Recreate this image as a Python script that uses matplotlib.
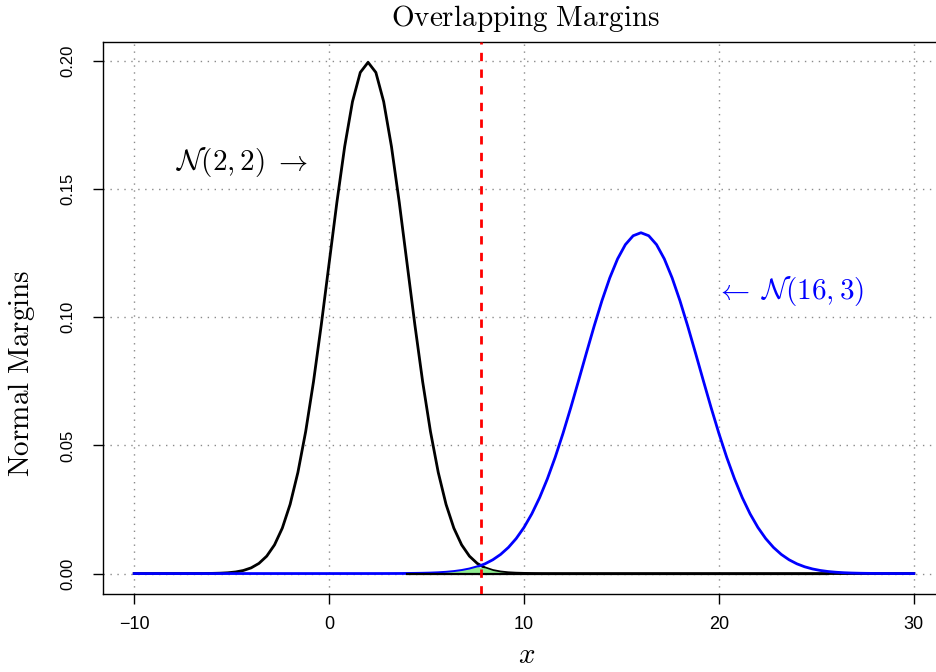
import numpy as np
import matplotlib
matplotlib.use("Agg")
import matplotlib.pyplot as plt

plt.rcParams['mathtext.fontset'] = 'cm'

# distribution parameters (from the labels)
means = [2, 16]
sds = [2, 3]
labels = [r'$\mathcal{N}(2,2)\;\rightarrow$', r'$\leftarrow\;\mathcal{N}(16,3)$']
colors = ['black', 'blue']
x_range = [-10, 30]
xticks = [-10, 0, 10, 20, 30]
yticks = [0.00, 0.05, 0.10, 0.15, 0.20]
cut_x = 7.773
fill_range = [3.73, 25.7]

xs = np.linspace(x_range[0], x_range[1], 101)


def dens(x, m, s):
    return np.exp(-(x - m) ** 2 / (2 * s ** 2)) / (s * np.sqrt(2 * np.pi))


fig = plt.figure(figsize=(9.36, 6.72), dpi=100)
W, H = 936, 672
ax = fig.add_axes([103 / W, (H - 594) / H, (945 - 103) / W, (594 - 42) / H])
ax.set_xlim(-11.6, 31.6)
ax.set_ylim(-0.00798, 0.2074)

ax.set_xticks(xticks)
ax.set_yticks(yticks)
ax.set_xticklabels([f"{v:g}".replace('-', '\u2212') for v in xticks],
                   fontfamily='Liberation Sans', fontsize=13)
ax.set_yticklabels([f"{v:.2f}" for v in yticks], fontfamily='Liberation Sans',
                   fontsize=12, rotation=90, va='center')
ax.tick_params(direction='out', length=7, width=1)
ax.tick_params(axis='x', pad=9)
ax.tick_params(axis='y', pad=13)
ax.grid(True, color='#8a8a8a', linestyle=(0, (1, 4)), linewidth=1)
ax.set_axisbelow(True)
for sp in ax.spines.values():
    sp.set_linewidth(1)

ys = [dens(xs, m, s) for m, s in zip(means, sds)]
ax.plot(xs, ys[0], color=colors[0], lw=2, zorder=3)
ax.plot(xs, ys[1], color=colors[1], lw=2, zorder=4)

mask = (xs >= fill_range[0]) & (xs <= fill_range[1])
ymin = np.minimum(ys[0], ys[1])
ax.fill_between(xs[mask], 0, ymin[mask], color='#90EE90', zorder=5, lw=0)
ax.plot([xs[mask][0], xs[mask][-1]], [0, 0], color='black', lw=1.6, zorder=6)

ax.axvline(cut_x, color='red', lw=2, linestyle=(0, (3, 3)), zorder=7)

ax.text(-4.5, 0.1606, labels[0], color=colors[0], fontsize=21, ha='center', va='center')
ax.text(23.6, 0.1103, labels[1], color=colors[1], fontsize=21, ha='center', va='center')

fig.text(525 / W, 1 - 18 / H, r'$\mathrm{Overlapping\ Margins}$', fontsize=21,
         ha='center', va='center')
fig.text(527 / W, 1 - 655 / H, r'$x$', fontsize=21, ha='center', va='center')
fig.text(22 / W, 1 - 373 / H, r'$\mathrm{Normal\ Margins}$', fontsize=21,
         ha='center', va='center', rotation=90)

fig.savefig('out.png', dpi=100)
